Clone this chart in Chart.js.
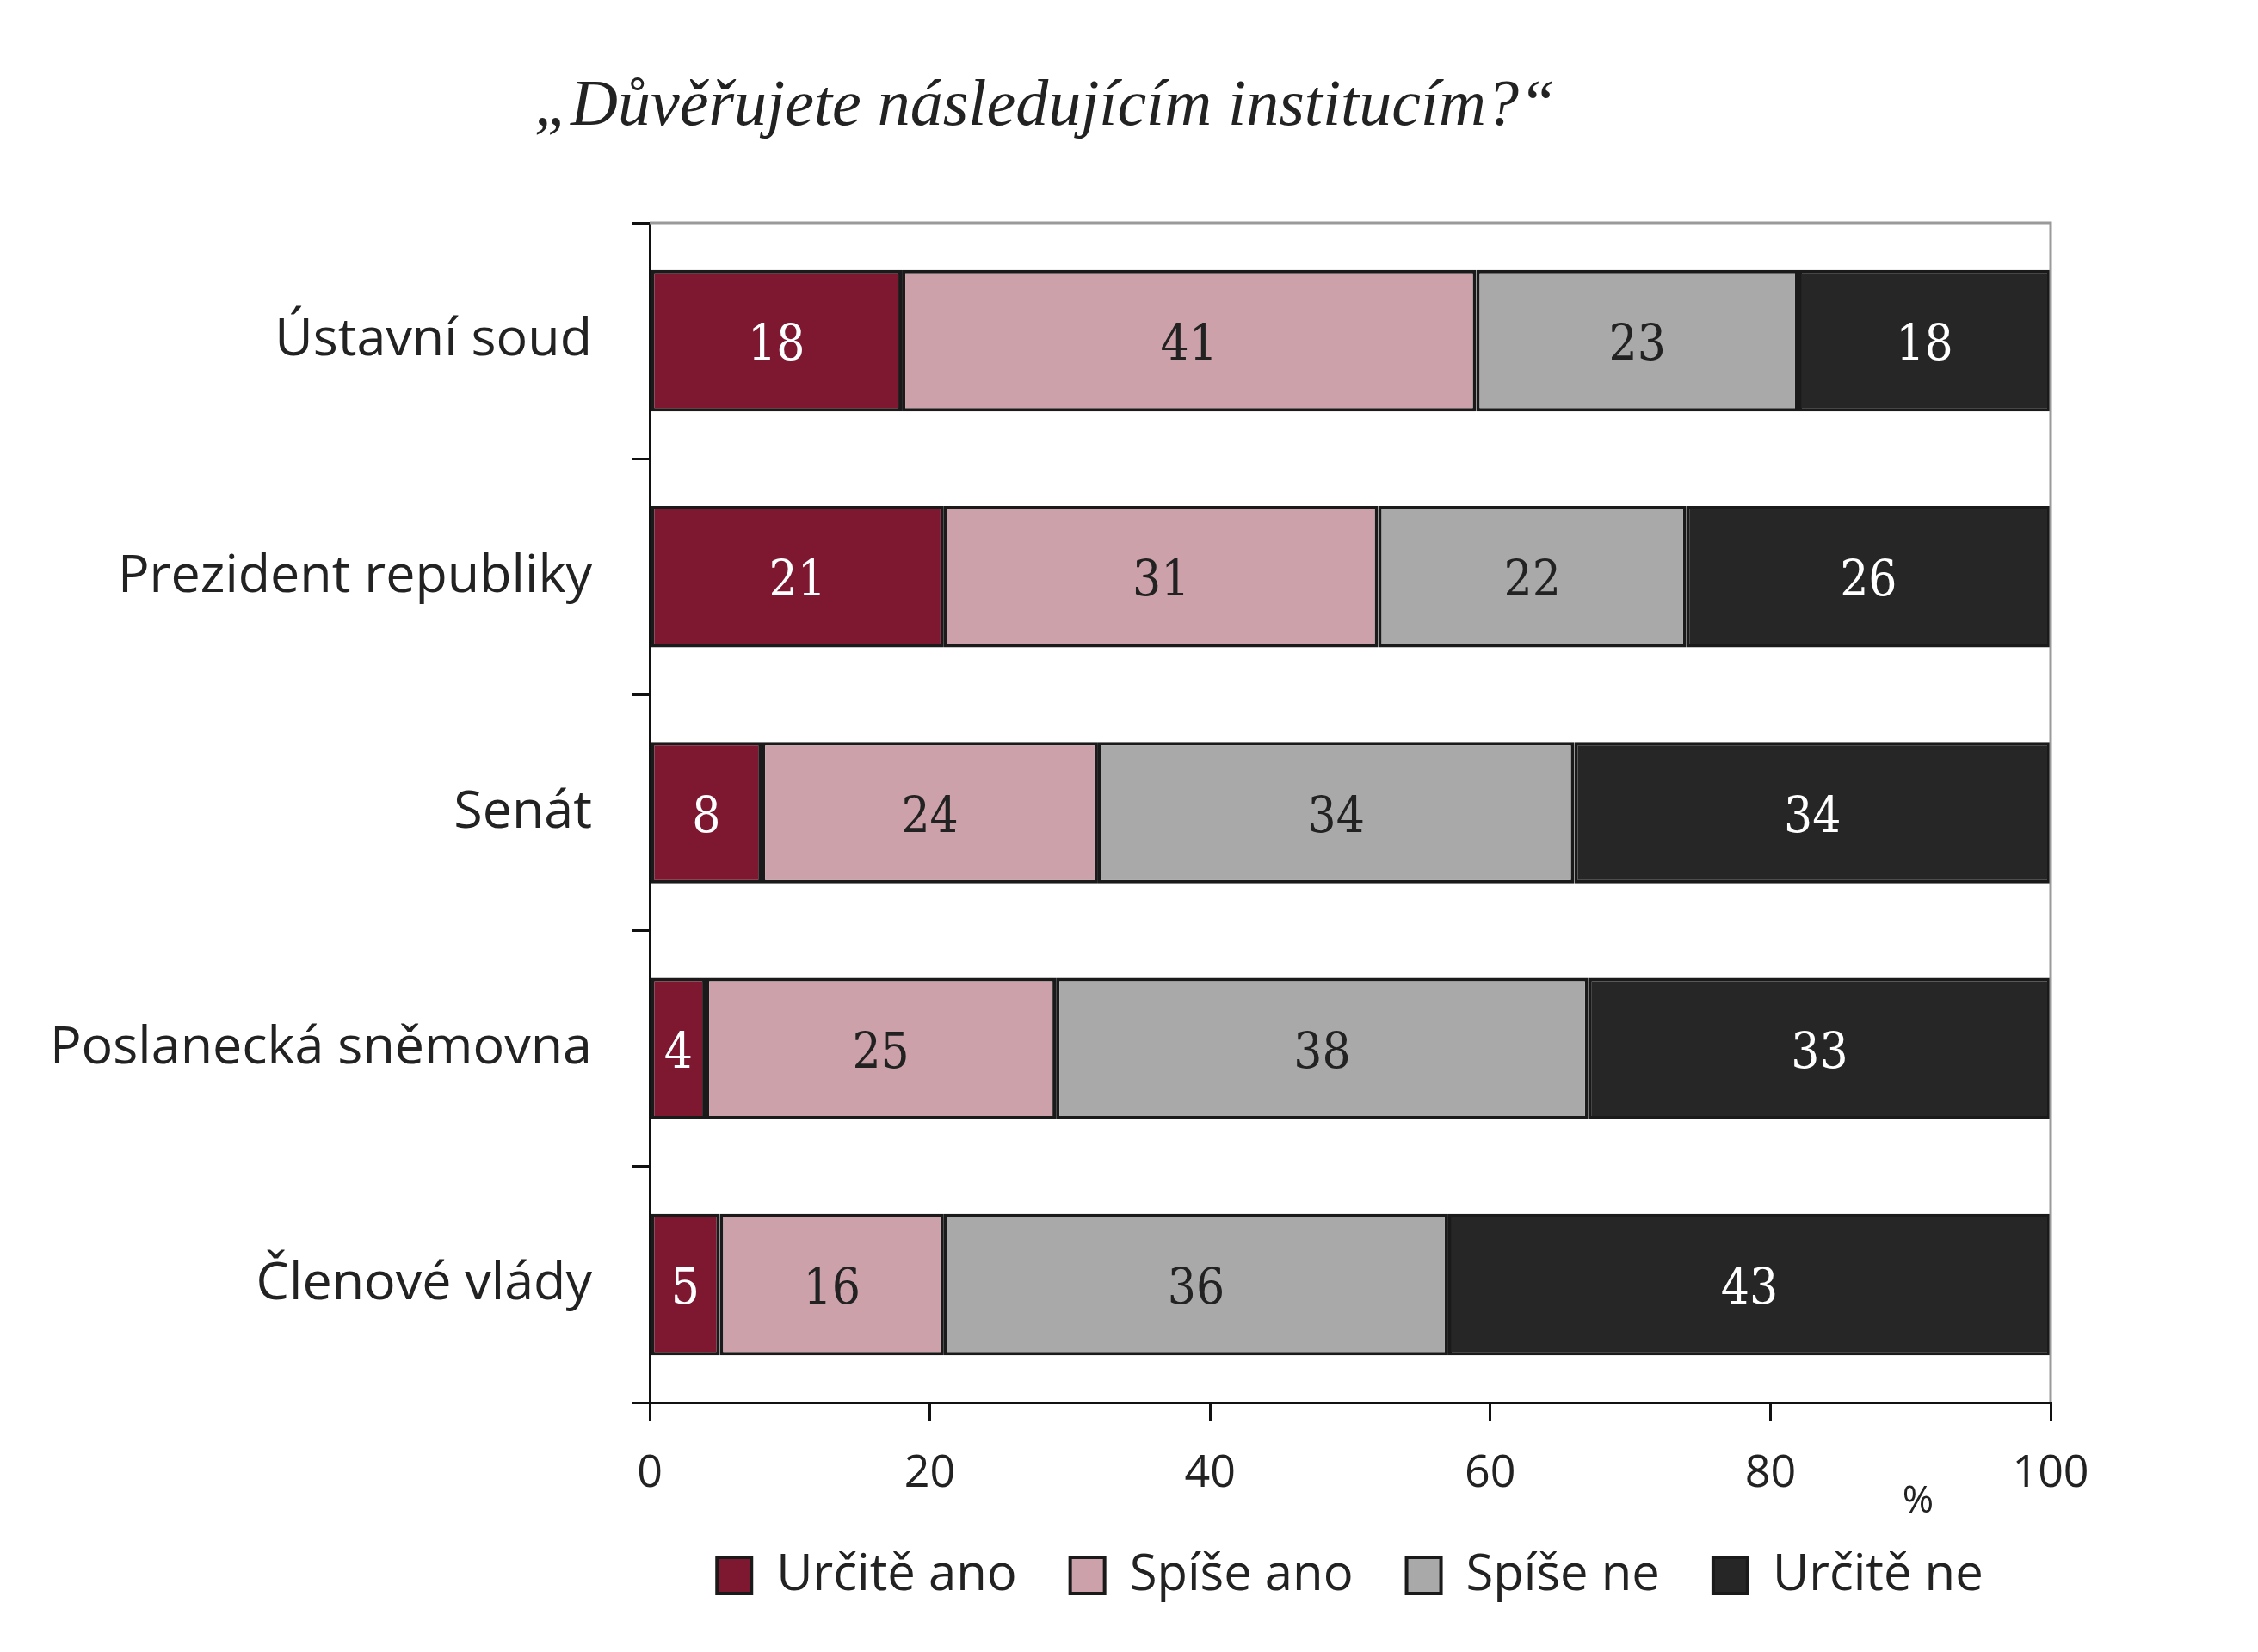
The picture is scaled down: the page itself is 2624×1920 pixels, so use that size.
<!DOCTYPE html>
<html>
<head>
<meta charset="utf-8">
<script src="https://cdn.jsdelivr.net/npm/chart.js@4.4.0/dist/chart.umd.min.js"></script>
<style>
  html, body { margin: 0; padding: 0; background: #fff; }
  #wrap { width: 2624px; height: 1920px; }
</style>
</head>
<body>
<div id="wrap"><canvas id="trustChart" width="2624" height="1920"></canvas></div>
<script>
// ---- data ----
const institutions  = ['Ústavní soud', 'Prezident republiky', 'Senát', 'Poslanecká sněmovna', 'Členové vlády'];
const answers       = ['Určitě ano', 'Spíše ano', 'Spíše ne', 'Určitě ne'];
const definitelyYes = [18, 21, 8, 4, 5];
const ratherYes     = [41, 31, 24, 25, 16];
const ratherNo      = [23, 22, 34, 38, 36];
const definitelyNo  = [18, 26, 34, 33, 43];
const xTickStep     = 20;
const xMax          = 100;
const titleText     = '„Důvěřujete následujícím institucím?“';
const unitText      = '%';

const fillColors  = ['#7e1730', '#cca1aa', '#a9a9a9', '#262626'];
const labelColors = ['#ffffff', '#222222', '#222222', '#ffffff'];
const sansFont    = '"Open Sans", "Noto Sans", sans-serif';

// title + unit label + frame on top/right
const decorPlugin = {
  id: 'decor',
  afterDraw(chart) {
    const { ctx, chartArea } = chart;
    ctx.save();
    ctx.strokeStyle = '#9a9a9a';
    ctx.lineWidth = 3;
    ctx.beginPath();
    ctx.moveTo(chartArea.left, chartArea.top);
    ctx.lineTo(chartArea.right, chartArea.top);
    ctx.lineTo(chartArea.right, chartArea.bottom);
    ctx.stroke();

    ctx.fillStyle = '#222';
    ctx.textAlign = 'center';
    ctx.textBaseline = 'alphabetic';
    ctx.font = 'italic 76px "Liberation Serif", "DejaVu Serif", serif';
    ctx.fillText(titleText, 1214, 145);

    ctx.textBaseline = 'middle';
    ctx.font = '44px ' + sansFont;
    ctx.fillText(unitText, chartArea.right - 154, chartArea.bottom + 115);
    ctx.restore();
  }
};

// value labels centred in each segment
const valueLabels = {
  id: 'valueLabels',
  afterDatasetsDraw(chart) {
    const { ctx } = chart;
    ctx.save();
    ctx.textAlign = 'center';
    ctx.textBaseline = 'middle';
    ctx.font = '58px "DejaVu Serif Condensed", "Liberation Serif", serif';
    chart.data.datasets.forEach((ds, i) => {
      const meta = chart.getDatasetMeta(i);
      meta.data.forEach((bar, j) => {
        const p = bar.getProps(['x', 'y', 'base'], true);
        ctx.fillStyle = labelColors[i];
        ctx.fillText(String(ds.data[j]), (p.x + p.base) / 2, p.y + 7);
      });
    });
    ctx.restore();
  }
};

const seriesValues = [definitelyYes, ratherYes, ratherNo, definitelyNo];

new Chart(document.getElementById('trustChart').getContext('2d'), {
  type: 'bar',
  data: {
    labels: institutions,
    datasets: answers.map((name, i) => ({
      label: name,
      data: seriesValues[i],
      backgroundColor: fillColors[i],
      borderColor: '#1a1a1a',
      borderWidth: 4,
      borderSkipped: false,
      barPercentage: 0.6,
      categoryPercentage: 1.0
    }))
  },
  options: {
    indexAxis: 'y',
    responsive: false,
    animation: false,
    devicePixelRatio: 1,
    layout: { padding: { top: 259, right: 241, left: 0, bottom: 50 } },
    plugins: {
      title: { display: false },
      tooltip: { enabled: false },
      legend: {
        position: 'bottom',
        fullSize: false,
        labels: {
          color: '#222',
          font: { family: sansFont, size: 58 },
          boxWidth: 40,
          boxHeight: 42,
          padding: 62
        }
      }
    },
    scales: {
      x: {
        stacked: true,
        min: 0,
        max: xMax,
        afterFit: s => { s.height = 110; },
        ticks: {
          stepSize: xTickStep,
          color: '#222',
          padding: 30,
          font: { family: sansFont, size: 52 }
        },
        grid: { drawOnChartArea: false, drawTicks: true, tickLength: 22, color: '#111', lineWidth: 3 },
        border: { color: '#111', width: 3 }
      },
      y: {
        stacked: true,
        afterFit: s => { s.width = 755; },
        ticks: {
          color: '#222',
          padding: 47,
          font: { family: sansFont, size: 61 }
        },
        grid: { drawOnChartArea: false, drawTicks: true, tickLength: 20, offset: true, color: '#111', lineWidth: 3 },
        border: { color: '#111', width: 3 }
      }
    }
  },
  plugins: [decorPlugin, valueLabels]
});
</script>
</body>
</html>
